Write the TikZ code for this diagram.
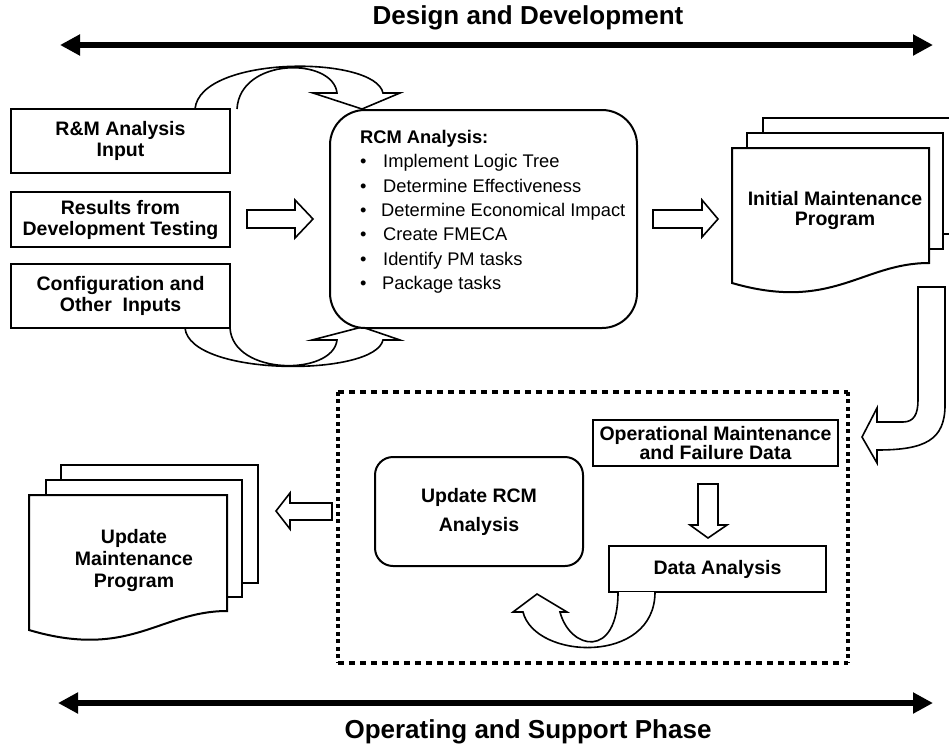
\documentclass[tikz,border=0pt]{standalone}
\usepackage{fontspec}
\setmainfont{Liberation Sans}
\usetikzlibrary{arrows.meta}
\begin{document}
\begin{tikzpicture}[x=1pt,y=-1pt,
  box/.style={draw,line width=2pt,fill=white,inner sep=0pt,align=center,
    font=\fontsize{19.5}{21}\selectfont\bfseries},
  lbl/.style={inner sep=0pt,align=center,font=\fontsize{19.5}{21}\selectfont\bfseries},
  blk/.style={draw,line width=1.6pt,fill=white,line join=miter},
  doc/.style={draw,line width=2pt,fill=white},
  phase/.style={line width=6.5pt,{Triangle[length=20pt,width=20pt]}-{Triangle[length=20pt,width=20pt]}},
  ttl/.style={inner sep=0pt,font=\fontsize{26}{30}\selectfont\bfseries},
  item/.style={inner sep=0pt,anchor=base west,font=\fontsize{18.3}{22}\selectfont},
  dsh/.style={line width=3.6pt}
]
\useasboundingbox (0,0) rectangle (949,750);

% phase arrows and titles
\coordinate (tl) at (60,45); \coordinate (tr) at (933,45);
\coordinate (bl) at (58,703); \coordinate (br) at (933,703);
\draw[phase] (tl) -- (tr);
\draw[phase] (bl) -- (br);
\node[ttl] (t1) at (528,18) {Design and Development};
\node[ttl] (t2) at (528,732) {Operating and Support Phase};

% curved arrows around the inputs
\draw[blk] (195,109) .. controls (200,55) and (375,55) .. (383,93) -- (400,93) -- (362,109) -- (313,93) -- (337,93) .. controls (333,57) and (240,57) .. (237,109);
\draw[blk] (185,328) .. controls (190,377) and (375,377) .. (383,340) -- (400,340) -- (362,327) -- (312,340) -- (337,340) .. controls (333,376) and (233,376) .. (230,328);

% input boxes
\node[box,minimum width=219pt,minimum height=64pt] (rm) at (120.5,141) {R\&M Analysis\\Input};
\node[box,minimum width=219pt,minimum height=55pt] (res) at (120.5,219.5) {Results from\\Development Testing};
\node[box,minimum width=219pt,minimum height=64pt] (cfg) at (120.5,296) {Configuration and\\Other\ \ Inputs};

% RCM analysis box
\node[box,rounded corners=35pt,minimum width=307pt,minimum height=218pt] (rcm) at (483.5,219) {};
\node[item,font=\fontsize{18.3}{22}\selectfont\bfseries] (r0) at (360,143.5) {RCM Analysis:};
\node[item] (r1) at (360,167.8) {\makebox[23pt][l]{•}Implement Logic Tree};
\node[item] (r2) at (360,192.1) {\makebox[23pt][l]{•}Determine Effectiveness};
\node[item] (r3) at (360,216.4) {\makebox[21pt][l]{•}Determine Economical Impact};
\node[item] (r4) at (360,240.7) {\makebox[23pt][l]{•}Create FMECA};
\node[item] (r5) at (360,265.0) {\makebox[23pt][l]{•}Identify PM tasks};
\node[item] (r6) at (360,289.3) {\makebox[22pt][l]{•}Package tasks};

% hollow arrows
\draw[blk] (247,210) -- (295,210) -- (295,200) -- (313,219) -- (295,238) -- (295,228) -- (247,228) -- cycle;
\draw[blk] (653,210) -- (702,210) -- (702,200) -- (718,219) -- (702,237) -- (702,228) -- (653,228) -- cycle;

% initial maintenance program (document stack)
\draw[doc] (763,118) rectangle (960,234);
\draw[doc] (747,133) rectangle (943,249);
\draw[doc] (732,148) -- (929,148) -- (929,263) .. controls (862,263) and (832,312) .. (732,283) -- cycle;
\node[lbl,font=\fontsize{19.5}{20}\selectfont\bfseries] (imp) at (835,210) {Initial Maintenance\\Program};

% right curved arrow
\draw[blk] (918,287) -- (945,287) -- (945,405) .. controls (945,440) and (925,450) .. (877,450) -- (877,463) -- (862,437) -- (877,408) -- (877,422) -- (903,422) .. controls (914,422) and (918,414) .. (918,400) -- cycle;

% dashed operating box
\node[minimum width=510pt,minimum height=271pt,inner sep=0pt] (dbox) at (593,527.5) {};
\draw[dsh,dash pattern=on 6.5pt off 4.5pt] (dbox.north west) -- (dbox.north east);
\draw[dsh,dash pattern=on 6.5pt off 4.5pt] (dbox.south west) -- (dbox.south east);
\draw[dsh,dash pattern=on 4pt off 3.5pt] (dbox.north west) -- (dbox.south west);
\draw[dsh,dash pattern=on 4pt off 3.5pt] (dbox.north east) -- (dbox.south east);

\node[box,minimum width=245pt,minimum height=46pt,font=\fontsize{19.5}{19.5}\selectfont\bfseries] (op) at (715.5,443) {Operational Maintenance\\and Failure Data};
\draw[blk] (698,484) -- (718,484) -- (718,525) -- (727,525) -- (708,538) -- (690,525) -- (698,525) -- cycle;
\node[box,minimum width=217pt,minimum height=46pt] (da) at (717.5,569) {Data Analysis};
\node[box,rounded corners=18pt,minimum width=208pt,minimum height=109pt,font=\fontsize{19.5}{29}\selectfont\bfseries] (urcm) at (479,511.5) {Update RCM\\Analysis};

% curved arrow from data analysis
\draw[blk] (655,592) .. controls (655,665) and (535,660) .. (523,612) -- (513,612) -- (537,594) -- (567,612) -- (560,612) .. controls (570,650) and (618,660) .. (618,592);

% hollow left arrow
\draw[blk] (332,503) -- (290,503) -- (290,493) -- (276,511) -- (290,529) -- (290,520) -- (332,520) -- cycle;

% update maintenance program (document stack)
\draw[doc] (61,465) rectangle (258,583);
\draw[doc] (46,480) rectangle (242,597);
\draw[doc] (29,495) -- (227,495) -- (227,611) .. controls (160,611) and (130,660) .. (29,630) -- cycle;
\node[lbl,font=\fontsize{19.5}{22}\selectfont\bfseries] (ump) at (134,560) {Update\\Maintenance\\Program};
\end{tikzpicture}
\end{document}
